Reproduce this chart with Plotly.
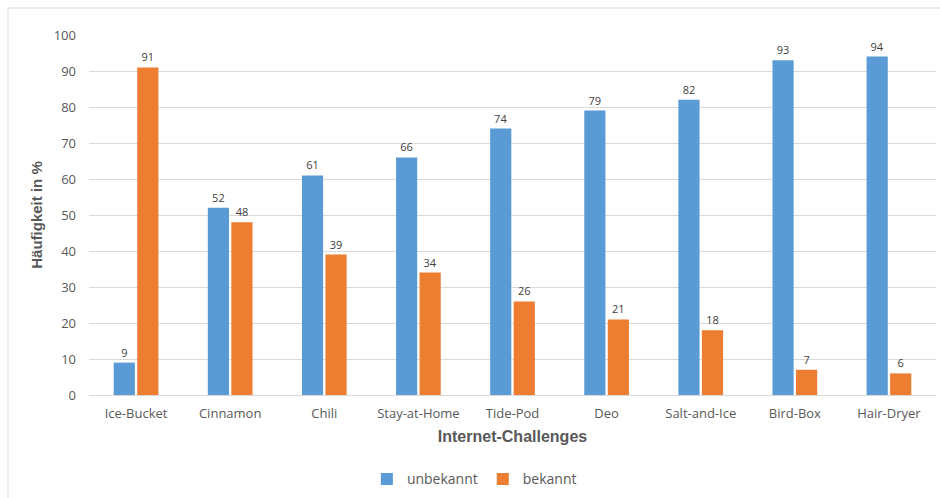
import plotly.graph_objects as go

categories = ["Ice-Bucket", "Cinnamon", "Chili", "Stay-at-Home", "Tide-Pod", "Deo",
              "Salt-and-Ice", "Bird-Box", "Hair-Dryer"]
unbekannt = [9, 52, 61, 66, 74, 79, 82, 93, 94]
bekannt = [91, 48, 39, 34, 26, 21, 18, 7, 6]
y_ticks = [0, 10, 20, 30, 40, 50, 60, 70, 80, 90, 100]

FONT = "Open Sans, Liberation Sans, sans-serif"
TXT = "#595959"

fig = go.Figure()
fig.add_trace(go.Bar(x=categories, y=unbekannt, name="unbekannt",
                     marker=dict(color="#5B9BD5", line=dict(width=0)),
                     text=unbekannt, textposition="outside", cliponaxis=False,
                     textfont=dict(size=11, color="#404040", family=FONT)))
fig.add_trace(go.Bar(x=categories, y=bekannt, name="bekannt",
                     marker=dict(color="#ED7D31", line=dict(width=0)),
                     text=bekannt, textposition="outside", cliponaxis=False,
                     textfont=dict(size=11, color="#404040", family=FONT)))

L, R, T, B = 89, 4, 35, 103
W, H = 940, 498
pw, ph = W - L - R, H - T - B

fig.update_layout(
    width=W, height=H,
    margin=dict(l=L, r=R, t=T, b=B, autoexpand=False),
    paper_bgcolor="white", plot_bgcolor="white",
    barmode="group", bargap=0.5, bargroupgap=0.1,
    font=dict(family=FONT, color=TXT, size=13),
    showlegend=True,
    legend=dict(orientation="h", x=0.455, xanchor="center", y=-0.19, yanchor="top",
                font=dict(size=14, color=TXT, family=FONT), itemwidth=30,
                traceorder="normal"),
    xaxis=dict(showgrid=False, showline=True, linecolor="#D9D9D9", linewidth=1,
               ticks="", tickfont=dict(size=13, color=TXT), automargin=False,
               ticklabelstandoff=6,
               title=dict(text="<b>Internet-Challenges</b>", standoff=10,
                          font=dict(size=16, color=TXT, family="Liberation Sans, Arial, sans-serif"))),
    yaxis=dict(range=[0, 100], tickvals=y_ticks, showgrid=True, gridcolor="#D9D9D9",
               gridwidth=1, zeroline=False, showline=False, ticks="", automargin=False,
               ticklabelstandoff=12,
               tickfont=dict(size=13, color=TXT),
               title=dict(text="<b>Häufigkeit in %</b>", standoff=7,
                          font=dict(size=15, color=TXT, family="Liberation Sans, Arial, sans-serif"))),
)

# outer chart border
fig.add_shape(type="rect", xref="paper", yref="paper",
              x0=(8 - L) / pw, x1=(945 - L) / pw,
              y0=1 - (520 - T) / ph, y1=1 + (T - 8) / ph,
              line=dict(color="#D9D9D9", width=1), layer="below")

fig.write_html("out.html")
